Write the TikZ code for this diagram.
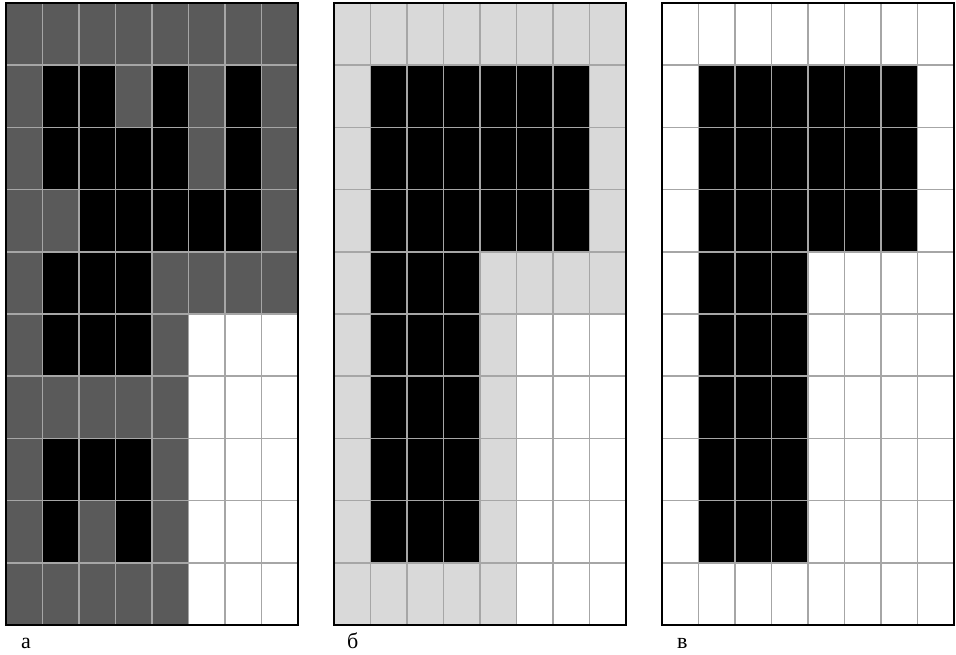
\documentclass[tikz,border=0pt]{standalone}
\usepackage{fontspec}
\setmainfont{Liberation Serif}
\definecolor{darkcell}{HTML}{5A5A5A}
\definecolor{lightcell}{HTML}{D9D9D9}
\definecolor{gridline}{HTML}{A6A6A6}
\tikzset{
  gridlines/.style={draw=gridline, line width=1.6pt},
  frame/.style={draw=black, line width=2pt},
  lbl/.style={anchor=base west, inner sep=0pt, font=\fontsize{22}{24}\selectfont},
}
\newcommand{\cw}{36.5}
\newcommand{\ch}{62.2}
\begin{document}
\begin{tikzpicture}[x=1pt,y=-1pt]
\useasboundingbox (0,0) rectangle (956,654);
% ---------- grid a ----------
\begin{scope}[shift={(6,3)}]
  \fill[darkcell] (0,0) rectangle (8*\cw,10*\ch);
  \fill[white] (5*\cw,5*\ch) rectangle (8*\cw,10*\ch);
  \foreach \c/\r in {1/1,2/1,4/1,6/1, 1/2,2/2,3/2,4/2,6/2, 2/3,3/3,4/3,5/3,6/3, 1/4,2/4,3/4, 1/5,2/5,3/5, 1/7,2/7,3/7, 1/8,3/8}
    \fill[black] (\c*\cw,\r*\ch) rectangle ({(\c+1)*\cw},{(\r+1)*\ch});
  \foreach \i in {1,...,7} \draw[gridlines] (\i*\cw,0) -- (\i*\cw,10*\ch);
  \foreach \j in {1,...,9} \draw[gridlines] (0,\j*\ch) -- (8*\cw,\j*\ch);
  \draw[frame] (0,0) rectangle (8*\cw,10*\ch);
  \node[lbl] (la) at (15,645) {а};
\end{scope}
% ---------- grid b ----------
\begin{scope}[shift={(334,3)}]
  \fill[lightcell] (0,0) rectangle (8*\cw,10*\ch);
  \fill[white] (5*\cw,5*\ch) rectangle (8*\cw,10*\ch);
  \fill[black] (1*\cw,1*\ch) rectangle (7*\cw,4*\ch);
  \fill[black] (1*\cw,4*\ch) rectangle (4*\cw,9*\ch);
  \foreach \i in {1,...,7} \draw[gridlines] (\i*\cw,0) -- (\i*\cw,10*\ch);
  \foreach \j in {1,...,9} \draw[gridlines] (0,\j*\ch) -- (8*\cw,\j*\ch);
  \draw[frame] (0,0) rectangle (8*\cw,10*\ch);
  \node[lbl] (lb) at (13,645) {б};
\end{scope}
% ---------- grid c ----------
\begin{scope}[shift={(662,3)}]
  \fill[white] (0,0) rectangle (8*\cw,10*\ch);
  \fill[black] (1*\cw,1*\ch) rectangle (7*\cw,4*\ch);
  \fill[black] (1*\cw,4*\ch) rectangle (4*\cw,9*\ch);
  \foreach \i in {1,...,7} \draw[gridlines] (\i*\cw,0) -- (\i*\cw,10*\ch);
  \foreach \j in {1,...,9} \draw[gridlines] (0,\j*\ch) -- (8*\cw,\j*\ch);
  \draw[frame] (0,0) rectangle (8*\cw,10*\ch);
  \node[lbl] (lc) at (15,645) {в};
\end{scope}
\end{tikzpicture}
\end{document}
